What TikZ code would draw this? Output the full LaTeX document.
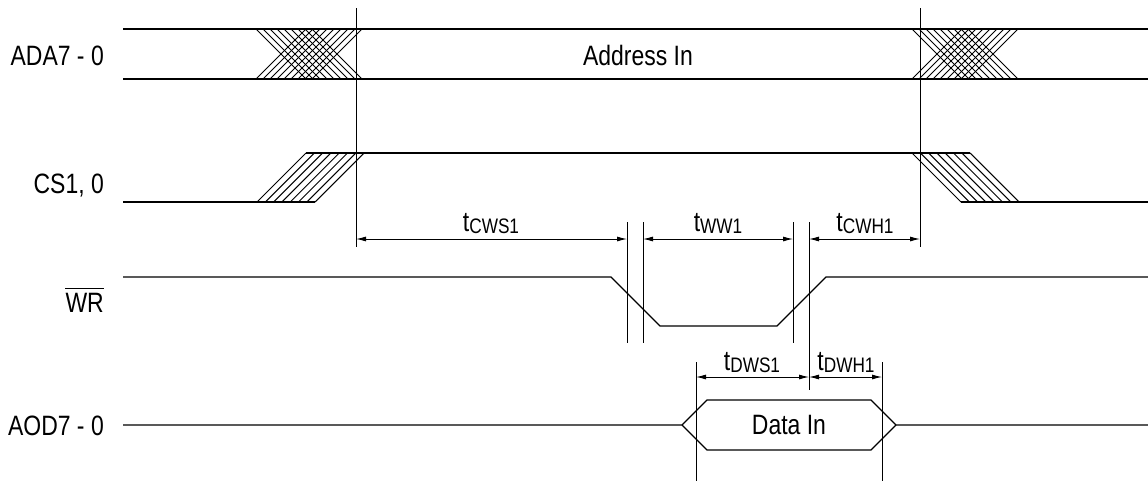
\documentclass[tikz,border=0pt]{standalone}
\usepackage{fontspec}
\setmainfont{Liberation Sans}[FakeStretch=0.82]
\usetikzlibrary{arrows.meta}
\newcommand{\tsb}[1]{t\raisebox{-2pt}{\fontsize{21}{21}\selectfont #1}}
\begin{document}
\begin{tikzpicture}[x=1pt,y=-1pt,
  sig/.style={line width=1.3pt},
  hat/.style={line width=1pt},
  ext/.style={line width=0.9pt},
  dim/.style={line width=0.9pt,{Latex[length=10pt,width=5pt]}-{Latex[length=10pt,width=5pt]}},
  lbl/.style={font=\fontsize{28}{30}\selectfont, inner sep=0pt},
  sname/.style={lbl, anchor=base east}]
\useasboundingbox (0,0) rectangle (1148,483);
% signal names
\node[sname] (ada) at (104,65) {ADA7 - 0};
\node[sname] (cs) at (104,193) {CS1, 0};
\node[sname] (wr) at (104,312) {WR};
\draw[line width=1pt] ([yshift=24pt]wr.base west) -- ([yshift=24pt]wr.base east);
\node[sname] (aod) at (104,435) {AOD7 - 0};
% ADA7-0
\draw[sig] (123,29) -- (1148,29);
\draw[sig] (123,79) -- (1148,79);
\foreach \s in {256,912}{
  \foreach \k in {0,...,8}{
    \draw[hat] ({\s+7*\k},29) -- ({\s+50+7*\k},79);
    \draw[hat] ({\s+7*\k},79) -- ({\s+50+7*\k},29);
  }
}
\node[lbl] (addr) at (638,55) {Address In};
% CS1,0
\draw[sig] (123,202) -- (315,202);
\draw[sig] (306,153) -- (970,153);
\draw[sig] (961,202) -- (1148,202);
\foreach \k in {0,...,7}{
  \draw[hat] ({257+8.3*\k},202) -- ({306+8.3*\k},153);
  \draw[hat] ({912+8.3*\k},153) -- ({961+8.3*\k},202);
}
% WR
\draw[sig] (123,277) -- (611,277) -- (660,326) -- (777,326) -- (826,277) -- (1148,277);
% AOD7-0
\draw[sig] (123,425) -- (682,425) -- (707,400) -- (871,400) -- (896,425) -- (1148,425);
\draw[sig] (682,425) -- (707,450) -- (871,450) -- (896,425);
\node[lbl] (data) at (789,425) {Data In};
% extension lines
\coordinate (e1t) at (356,8);   \coordinate (e1b) at (356,247);
\coordinate (e2t) at (920,8);   \coordinate (e2b) at (920,247);
\coordinate (e3t) at (627,222); \coordinate (e3b) at (627,343);
\coordinate (e4t) at (643,222); \coordinate (e4b) at (643,343);
\coordinate (e5t) at (793,222); \coordinate (e5b) at (793,343);
\coordinate (e6t) at (809,222); \coordinate (e6b) at (809,390);
\coordinate (e7t) at (696,362); \coordinate (e7b) at (696,481);
\coordinate (e8t) at (882,362); \coordinate (e8b) at (882,481);
\foreach \i in {1,...,8}{\draw[ext] (e\i t) -- (e\i b);}
% dimension arrows
\coordinate (a1) at (356,239); \coordinate (a2) at (627,239);
\coordinate (a3) at (643,239); \coordinate (a4) at (793,239);
\coordinate (a5) at (809,239); \coordinate (a6) at (920,239);
\coordinate (b1) at (696,377); \coordinate (b2) at (809,377);
\coordinate (b3) at (882,377);
\draw[dim] (a1) -- (a2);
\draw[dim] (a3) -- (a4);
\draw[dim] (a5) -- (a6);
\draw[dim] (b1) -- (b2);
\draw[dim] (b2) -- (b3);
\node[lbl, anchor=base] (tcws) at (491,231) {\tsb{CWS1}};
\node[lbl, anchor=base] (tww) at (718,231) {\tsb{WW1}};
\node[lbl, anchor=base] (tcwh) at (865,231) {\tsb{CWH1}};
\node[lbl, anchor=base] (tdws) at (752,370) {\tsb{DWS1}};
\node[lbl, anchor=base] (tdwh) at (846,370) {\tsb{DWH1}};
\end{tikzpicture}
\end{document}
